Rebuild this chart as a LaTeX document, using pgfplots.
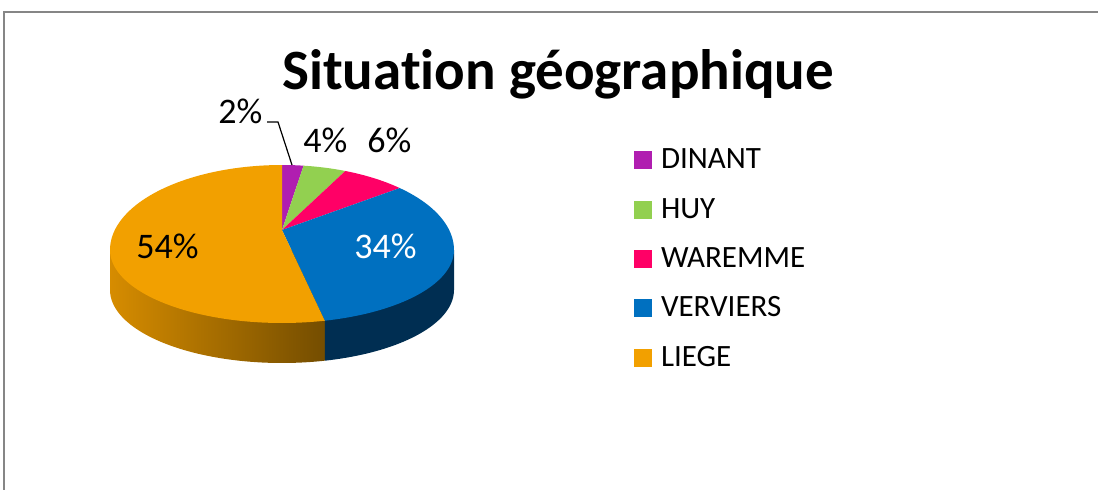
\documentclass[border=0pt]{standalone}
\usepackage{pgfplots}
\usepackage{pgfplotstable}
\pgfplotsset{compat=1.18}
\usepackage{fontspec}
\setmainfont{Carlito}[Ligatures=CommonOff]

\definecolor{cDinant}{RGB}{176,30,176}
\definecolor{cHuy}{RGB}{146,208,80}
\definecolor{cWaremme}{RGB}{255,0,102}
\definecolor{cVerviers}{RGB}{0,112,192}
\definecolor{cLiege}{RGB}{242,160,0}
\definecolor{sLiegeL}{RGB}{214,140,0}
\definecolor{sLiegeR}{RGB}{116,77,0}
\definecolor{sVerviers}{RGB}{0,46,82}
\definecolor{frame}{RGB}{134,134,134}

% percentages per town
\pgfplotstableread{
name value
DINANT 2
HUY 4
WAREMME 6
VERVIERS 34
LIEGE 54
}\piedata

\newcommand\getval[2]{\pgfplotstablegetelem{#1}{value}\of\piedata\let#2\pgfplotsretval}
\getval{0}\vA
\getval{1}\vB
\getval{2}\vC
\getval{3}\vD
\getval{4}\vE
% slice boundary angles (clockwise from the top)
\pgfmathsetmacro\aA{90-3.6*\vA}
\pgfmathsetmacro\aB{\aA-3.6*\vB}
\pgfmathsetmacro\aC{\aB-3.6*\vC}
\pgfmathsetmacro\aD{\aC-3.6*\vD}
\pgfmathsetmacro\aE{\aD-3.6*\vE}
% pie geometry (axis units = pixels)
\def\cx{282}\def\cy{239}\def\ra{172}\def\rbt{85}\def\rbb{73}\def\dep{40}
\def\apx{282}\def\apy{259}
\pgfmathsetmacro\bx{\cx+\ra*cos(\aD)}
\pgfmathsetmacro\by{\cy+\rbb*sin(\aD)}
\pgfmathsetmacro\aDp{\aD+360}

\begin{document}
\begin{tikzpicture}
\begin{axis}[
  x=0.5pt, y=0.5pt, scale only axis,
  xmin=0, xmax=1098, ymin=0, ymax=489,
  axis line style={draw=none}, xtick=\empty, ytick=\empty,
  legend style={at={(axis cs:634,340)}, anchor=north west, draw=none, fill=none,
    inner sep=0pt, outer sep=0pt, row sep=13.2pt,
    font=\fontsize{15.5}{18}\selectfont,
    nodes={inner sep=0pt}},
  legend cell align=left,
  legend image code/.code={\fill[#1] (0pt,-4.5pt) rectangle (9pt,4.5pt); \path (13.5pt,0pt);},
]
\path (axis cs:0,0) rectangle (axis cs:1098,489);
% frame
\addplot[frame, line width=1pt, forget plot] coordinates {(4,-20) (4,477) (1120,477)};

% sides
\addplot[forget plot, draw=none, left color=sLiegeL, right color=sLiegeR, domain=180:\aDp, samples=60, variable=\t]
  ({\cx+\ra*cos(\t)}, {\cy-\dep+\rbb*sin(\t)}) -- (axis cs:\bx,\by) -- (axis cs:\cx,\cy) -- (axis cs:\cx-\ra,\cy) -- cycle;
\addplot[forget plot, draw=none, fill=sVerviers, domain=\aDp:360, samples=40, variable=\t]
  ({\cx+\ra*cos(\t)}, {\cy-\dep+\rbb*sin(\t)}) -- (axis cs:\cx+\ra,\cy) -- (axis cs:\cx,\cy) -- (axis cs:\bx,\by) -- cycle;

% top faces
\addplot[fill=cDinant, draw=none, domain=\aA:90, samples=10, variable=\t]
  ({\cx+\ra*cos(\t)}, {\cy+sin(\t)*(sin(\t)>0 ? \rbt : \rbb)}) -- (axis cs:\apx,\apy) -- cycle;
\addlegendentry{DINANT}
\addplot[fill=cHuy, draw=none, domain=\aB:\aA, samples=12, variable=\t]
  ({\cx+\ra*cos(\t)}, {\cy+sin(\t)*(sin(\t)>0 ? \rbt : \rbb)}) -- (axis cs:\apx,\apy) -- cycle;
\addlegendentry{HUY}
\addplot[fill=cWaremme, draw=none, domain=\aC:\aB, samples=15, variable=\t]
  ({\cx+\ra*cos(\t)}, {\cy+sin(\t)*(sin(\t)>0 ? \rbt : \rbb)}) -- (axis cs:\apx,\apy) -- cycle;
\addlegendentry{WAREMME}
\addplot[fill=cVerviers, draw=none, domain=\aD:\aC, samples=70, variable=\t]
  ({\cx+\ra*cos(\t)}, {\cy+sin(\t)*(sin(\t)>0 ? \rbt : \rbb)}) -- (axis cs:\apx,\apy) -- cycle;
\addlegendentry{VERVIERS}
\addplot[fill=cLiege, draw=none, domain=\aE:\aD, samples=110, variable=\t]
  ({\cx+\ra*cos(\t)}, {\cy+sin(\t)*(sin(\t)>0 ? \rbt : \rbb)}) -- (axis cs:\apx,\apy) -- cycle;
\addlegendentry{LIEGE}

% leader line for 2%
\addplot[black, line width=0.6pt, forget plot] coordinates {(267,367) (278,367) (292,324)};

% labels
\node[anchor=base west, inner sep=0pt, font=\fontsize{18}{21}\selectfont] at (axis cs:218,366) {2\%};
\node[anchor=base west, inner sep=0pt, font=\fontsize{18}{21}\selectfont] at (axis cs:303,337) {4\%};
\node[anchor=base west, inner sep=0pt, font=\fontsize{18}{21}\selectfont] at (axis cs:367,337) {6\%};
\node[anchor=base west, inner sep=0pt, font=\fontsize{18}{21}\selectfont] at (axis cs:136,231) {54\%};
\node[anchor=base west, inner sep=0pt, font=\fontsize{18}{21}\selectfont, text=white] at (axis cs:354,231) {34\%};

% title
\node[anchor=base, inner sep=0pt, font=\fontsize{28.5}{34}\selectfont\bfseries] at (axis cs:558,400) {Situation géographique};
\end{axis}
\end{tikzpicture}
\end{document}
